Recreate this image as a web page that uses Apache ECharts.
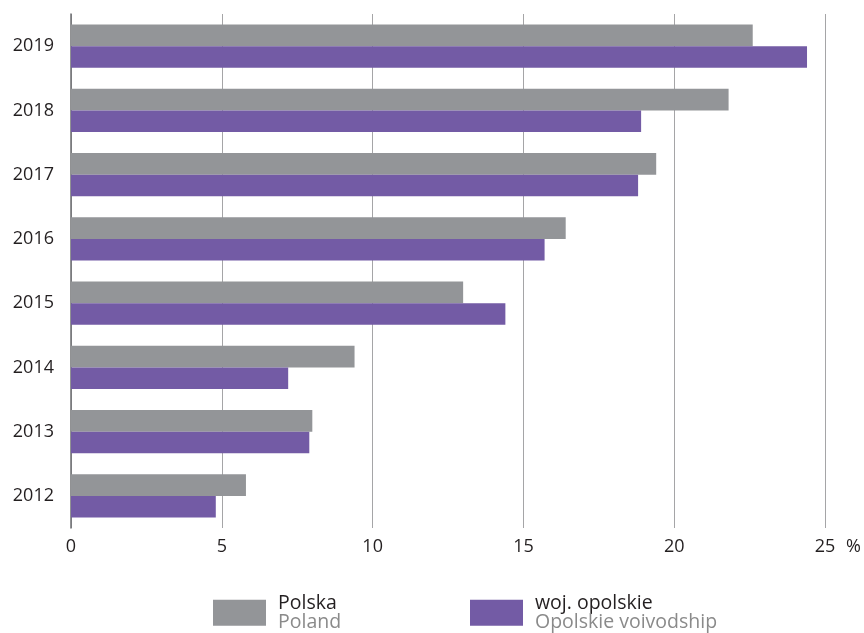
<!DOCTYPE html>
<html>
<head>
<meta charset="utf-8">
<script src="https://cdn.jsdelivr.net/npm/echarts@6/dist/echarts.min.js"></script>
<style>html,body{margin:0;padding:0;background:#fff}#c{width:864px;height:633px}</style>
</head>
<body>
<div id="c"></div>
<script>
const years = ['2012','2013','2014','2015','2016','2017','2018','2019'];
const polska = [5.8, 8.0, 9.4, 13.0, 16.4, 19.4, 21.8, 22.6];
const opolskie = [4.8, 7.9, 7.2, 14.4, 15.7, 18.8, 18.9, 24.4];
const xTicks = [0, 5, 10, 15, 20, 25];
const seriesNames = ['Polska', 'woj. opolskie'];
const seriesNamesEn = ['Poland', 'Opolskie voivodship'];

const FONT = 'Open Sans';
const chart = echarts.init(document.getElementById('c'));
const legendText = {
  fontFamily: FONT,
  padding: [0, 0, 0, 7],
  rich: {
    a: { fontFamily: FONT, fontSize: 19.5, color: '#231f20', lineHeight: 19.5 },
    b: { fontFamily: FONT, fontSize: 19.5, color: '#8a8a8a', lineHeight: 19.5 }
  }
};
const fmt = name => '{a|' + name + '}\n{b|' + seriesNamesEn[seriesNames.indexOf(name)] + '}';
chart.setOption({
  animation: false,
  backgroundColor: '#ffffff',
  grid: { left: 71, right: 38, top: 14, bottom: 105, containLabel: false },
  xAxis: {
    type: 'value',
    min: xTicks[0],
    max: xTicks[xTicks.length - 1],
    interval: 5,
    name: '%',
    nameLocation: 'end',
    nameGap: 21,
    nameTextStyle: { fontFamily: FONT, fontSize: 18, color: '#231f20', verticalAlign: 'top', padding: [10, 0, 0, 0] },
    axisLine: { show: false },
    axisTick: { show: false },
    axisLabel: { margin: 10, fontFamily: FONT, fontSize: 18, color: '#231f20' },
    splitLine: { show: true, lineStyle: { color: '#a5a5a7', width: 1 } }
  },
  yAxis: {
    type: 'category',
    data: years,
    axisLine: { show: true, lineStyle: { color: '#6d6e71', width: 1.5 } },
    axisTick: { show: false },
    axisLabel: { margin: 17, fontFamily: FONT, fontSize: 18, color: '#231f20' },
    splitLine: { show: false }
  },
  legend: [
    {
      data: [seriesNames[0]], left: 213, top: 593, padding: 0, orient: 'horizontal',
      itemWidth: 53, itemHeight: 26, icon: 'rect', selectedMode: false,
      textStyle: legendText, formatter: fmt
    },
    {
      data: [seriesNames[1]], left: 470, top: 593, padding: 0, orient: 'horizontal',
      itemWidth: 53, itemHeight: 26, icon: 'rect', selectedMode: false,
      textStyle: legendText, formatter: fmt
    }
  ],
  series: [
    {
      name: seriesNames[0], type: 'bar', data: polska,
      itemStyle: { color: '#939598' },
      barGap: '0%', barCategoryGap: '33%'
    },
    {
      name: seriesNames[1], type: 'bar', data: opolskie,
      itemStyle: { color: '#735ba5' },
      barGap: '0%', barCategoryGap: '33%'
    }
  ]
});
</script>
</body>
</html>
